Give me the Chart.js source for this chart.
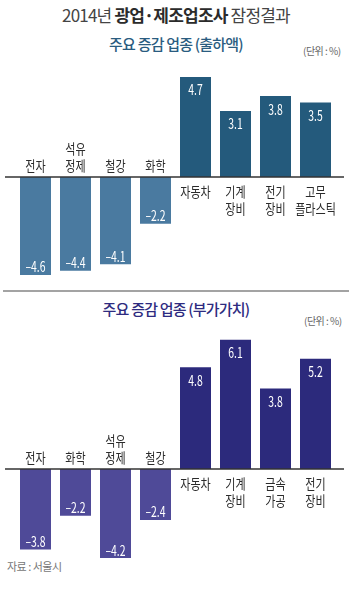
<!DOCTYPE html>
<html>
<head>
<meta charset="utf-8">
<script src="https://cdn.jsdelivr.net/npm/chart.js@4.4.1/dist/chart.umd.min.js"></script>
<style>
  body { margin: 0; background: #fff; }
  #page { position: relative; width: 352px; height: 595px; overflow: hidden; font-family: 'Noto Sans CJK KR', sans-serif; }
  .txt { position: absolute; white-space: nowrap; line-height: 1; }
  canvas { position: absolute; left: 0; }
</style>
</head>
<body>
<div id="page">
  <div class="txt" style="left:0;width:352px;text-align:center;top:6px;font-size:17px;color:#444;letter-spacing:-0.8px;">2014년 <b style="color:#2b2b2b">광업·제조업조사</b> 잠정결과</div>
  <div class="txt" style="left:0;width:352px;text-align:center;top:36px;font-size:15px;font-weight:500;color:#2a5c80;letter-spacing:-0.8px;">주요 증감 업종 (출하액)</div>
  <div class="txt" style="left:303px;top:46px;font-size:10px;color:#666;letter-spacing:-0.5px;">(단위 : %)</div>

  <div style="position:absolute;left:3px;right:3px;top:290px;height:2px;background:#a3a3a3;"></div>

  <div class="txt" style="left:0;width:352px;text-align:center;top:301px;font-size:15px;font-weight:500;color:#2e2b80;letter-spacing:-0.8px;">주요 증감 업종 (부가가치)</div>
  <div class="txt" style="left:304px;top:316px;font-size:10px;color:#666;letter-spacing:-0.5px;">(단위 : %)</div>
  <div class="txt" style="left:7px;top:561px;font-size:11px;color:#777;letter-spacing:-0.5px;">자료 : 서울시</div>

  <canvas id="chart1" width="352" height="230" style="top:60px"></canvas>
  <canvas id="chart2" width="352" height="285" style="top:300px"></canvas>
</div>

<script>
// 출하액
const cats1 = [['전자'], ['석유', '정제'], ['철강'], ['화학'], ['자동차'], ['기계', '장비'], ['전기', '장비'], ['고무', '플라스틱']]
const vals1 = [-4.6, -4.4, -4.1, -2.2, 4.7, 3.1, 3.8, 3.5]

// 부가가치
const cats2 = [['전자'], ['화학'], ['석유', '정제'], ['철강'], ['자동차'], ['기계', '장비'], ['금속', '가공'], ['전기', '장비']]
const vals2 = [-3.8, -2.2, -4.2, -2.4, 4.8, 6.1, 3.8, 5.2]

const FONT = "'Noto Sans CJK KR', sans-serif"

function squeezeText(ctx, text, x, y, size, color, sx) {
    ctx.save()
    ctx.translate(x, y)
    ctx.scale(sx, 1)
    ctx.font = size + 'px ' + FONT
    ctx.fillStyle = color
    ctx.textAlign = 'center'
    ctx.textBaseline = 'middle'
    ctx.fillText(text, 0, 0)
    ctx.restore()
}

const labelPlugin = {
    id: 'labels',
    afterDatasetsDraw(chart) {
        const ctx = chart.ctx
        const cats = chart.data.labels
        const vals = chart.data.datasets[0].data
        const zero = chart.scales.y.getPixelForValue(0)

        // base line
        ctx.save()
        ctx.strokeStyle = '#333'
        ctx.lineWidth = 1.5
        ctx.beginPath()
        ctx.moveTo(5, zero)
        ctx.lineTo(344, zero)
        ctx.stroke()
        ctx.restore()

        chart.getDatasetMeta(0).data.forEach((bar, i) => {
            const v = vals[i]
            const lines = cats[i]
            const txt = (v < 0 ? '–' : '') + Math.abs(v).toFixed(1)
            if (v < 0) {
                squeezeText(ctx, txt, bar.x, bar.y - 8, 14.5, '#fff', 0.72)
                lines.forEach((l, k) => {
                    squeezeText(ctx, l, bar.x, zero - 11 - (lines.length - 1 - k) * 17, 13.5, '#2b2b2b', 0.82)
                })
            } else {
                squeezeText(ctx, txt, bar.x, bar.y + 13, 14.5, '#fff', 0.72)
                lines.forEach((l, k) => {
                    squeezeText(ctx, l, bar.x, zero + 15 + k * 17, 13.5, '#2b2b2b', 0.82)
                })
            }
        })
    }
}

function makeChart(id, cats, vals, negColor, posColor, yMin, yMax, padTop, padBottom) {
    const data = {
        labels: cats,
        datasets: [{
            data: vals,
            backgroundColor: vals.map(v => v < 0 ? negColor : posColor),
            borderWidth: 0,
            barPercentage: 0.775,
            categoryPercentage: 1
        }]
    }

    let options = {
        responsive: false,
        animation: false,
        layout: { padding: { left: 15.5, right: 16.5, top: padTop, bottom: padBottom } },
        scales: {
            x: { display: false },
            y: { display: false, min: yMin, max: yMax }
        },
        plugins: {
            legend: { display: false },
            tooltip: { enabled: false }
        }
    }

    return new Chart(id, { type: 'bar', data, options, plugins: [labelPlugin] })
}

makeChart('chart1', cats1, vals1, '#4a7aa0', '#245a7c', -5, 5, 10.5, 6.5)
makeChart('chart2', cats2, vals2, '#4f4a98', '#2c2a7c', -5, 6.5, 31.2, 10)
</script>
</body>
</html>
